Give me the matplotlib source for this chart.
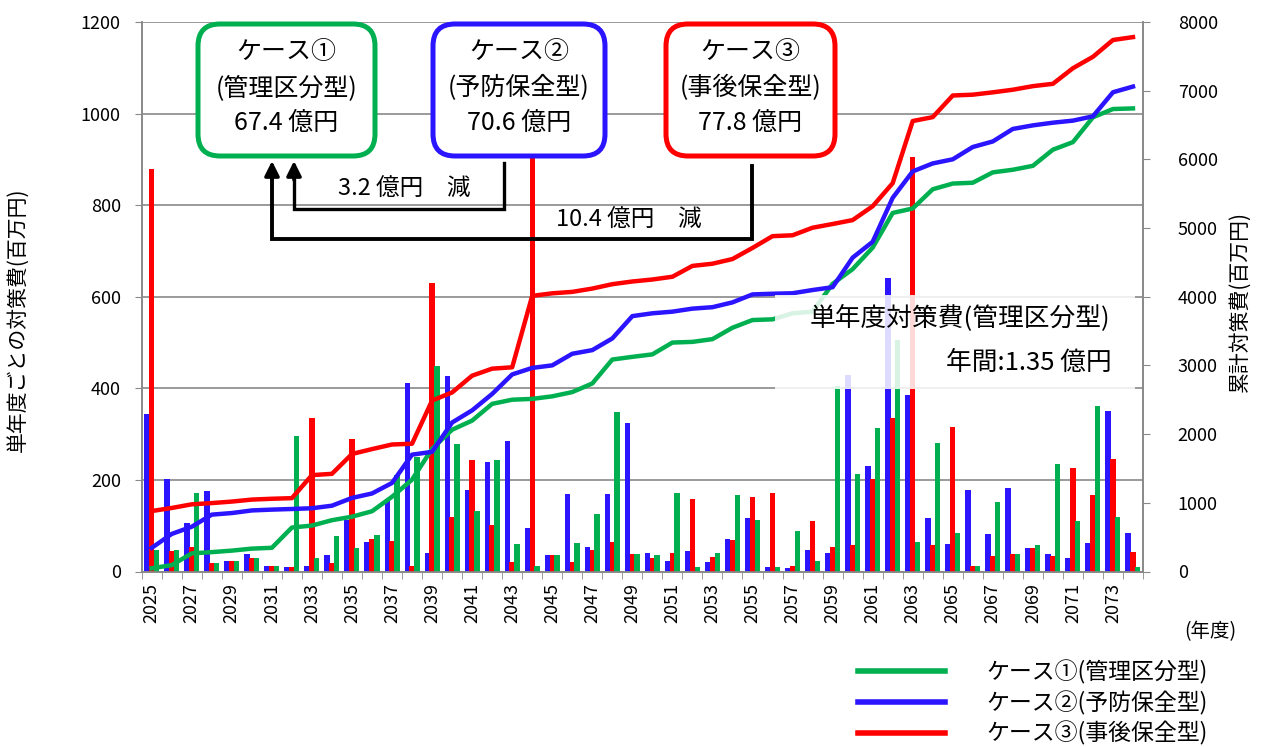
import numpy as np
import matplotlib
matplotlib.use("Agg")
import matplotlib.pyplot as plt
from matplotlib.patches import FancyBboxPatch, Rectangle
from matplotlib.lines import Line2D

plt.rcParams['font.family'] = ['Noto Sans CJK JP', 'DejaVu Sans']

# fiscal years
years = list(range(2025, 2075))

# single-year cost per case (million yen)
case1 = [47, 46, 171, 18, 22, 29, 12, 295, 29, 78,
         51, 79, 211, 249, 449, 278, 133, 244, 60, 12,
         37, 62, 125, 349, 39, 36, 172, 10, 40, 166,
         112, 10, 88, 24, 405, 214, 313, 505, 65, 280,
         83, 12, 151, 38, 57, 235, 110, 362, 120, 9]
case2 = [344, 203, 105, 176, 23, 38, 12, 9, 11, 37,
         113, 65, 153, 412, 41, 427, 177, 239, 284, 95,
         37, 169, 53, 170, 325, 41, 24, 44, 21, 70,
         116, 10, 7, 47, 41, 430, 231, 640, 385, 116,
         60, 179, 81, 182, 52, 39, 30, 63, 350, 83]
case3 = [880, 45, 53, 18, 22, 29, 12, 9, 335, 19,
         289, 71, 67, 11, 629, 118, 244, 102, 20, 1040,
         37, 21, 48, 64, 39, 29, 40, 158, 32, 68,
         162, 171, 13, 110, 54, 57, 202, 335, 905, 57,
         315, 12, 34, 38, 52, 34, 227, 166, 245, 42]

labels = ['ケース①(管理区分型)', 'ケース②(予防保全型)', 'ケース③(事後保全型)']
totals = ['67.4 億円', '70.6 億円', '77.8 億円']

GREEN = '#00B050'
BLUE = '#2B14FF'
RED = '#FF0000'
GRAY = '#898989'

fig = plt.figure(figsize=(12.61, 7.47), dpi=100)
W, H = 1261, 747
ax = fig.add_axes([141.7 / W, 1 - 571.5 / H, (1143 - 141.7) / W, (571.5 - 22) / H])
ax2 = ax.twinx()

x = np.arange(len(years))
bw = 0.27
ax.bar(x - 0.24, case2, bw, color=BLUE, zorder=2)
ax.bar(x, case3, bw, color=RED, zorder=3)
ax.bar(x + 0.24, case1, bw, color=GREEN, zorder=4)

# cumulative cost lines
ax2.plot(x, np.cumsum(case1), color=GREEN, lw=3.2, solid_joinstyle='round')
ax2.plot(x, np.cumsum(case2), color=BLUE, lw=3.2, solid_joinstyle='round')
ax2.plot(x, np.cumsum(case3), color=RED, lw=3.2, solid_joinstyle='round')

ax.set_xlim(-0.5, len(years) - 0.5)
ax.set_ylim(0, 1200)
ax2.set_ylim(0, 8000)
ax.set_yticks(range(0, 1201, 200))
ax2.set_yticks(range(0, 8001, 1000))
ax.yaxis.grid(True, color=GRAY, lw=1.2)
ax.set_axisbelow(True)

ax.set_xticks(x[::2])
ax.set_xticklabels([str(y) for y in years[::2]], rotation=90, fontsize=13)
ax.set_xticks(np.arange(-0.5, len(years), 1), minor=True)
ax.tick_params(axis='x', which='major', length=0, pad=8)
ax.tick_params(axis='x', which='minor', length=5, color=GRAY)
ax.tick_params(axis='y', length=5, color=GRAY, labelsize=13, pad=10)
ax2.tick_params(axis='y', length=5, color=GRAY, labelsize=13, pad=20)

for a in (ax, ax2):
    a.spines['top'].set_visible(False)
    for s in ('left', 'right', 'bottom'):
        a.spines[s].set_color(GRAY)
        a.spines[s].set_linewidth(1.2)

fig.text(18 / W, 1 - 320 / H, '単年度ごとの対策費(百万円)', rotation=90,
         ha='center', va='center', fontsize=15)
fig.text(1240 / W, 1 - 302 / H, '累計対策費(百万円)', rotation=90,
         ha='center', va='center', fontsize=15)
fig.text(1210 / W, 1 - 632 / H, '(年度)', ha='center', va='center', fontsize=14)

# overlay in pixel coordinates for the annotations
ov = fig.add_axes([0, 0, 1, 1], zorder=10)
ov.set_xlim(0, W)
ov.set_ylim(H, 0)
ov.axis('off')

# faded note box
ov.add_patch(Rectangle((775, 295), 360, 94, facecolor='white', alpha=0.85,
                       edgecolor='none'))
ov.text(960, 318, '単年度対策費(管理区分型)', ha='center', va='center', fontsize=18.5)
ov.text(1112, 363, '年間:1.35 億円', ha='right', va='center', fontsize=18.5)

# case boxes
boxes = [(198, 375, GREEN, 'ケース①', '(管理区分型)'),
         (433, 605, BLUE, 'ケース②', '(予防保全型)'),
         (666, 835, RED, 'ケース③', '(事後保全型)')]
for (x0, x1, c, t1, t2), tot in zip(boxes, totals):
    ov.add_patch(FancyBboxPatch((x0, 24), x1 - x0, 132,
                                boxstyle='round,pad=0,rounding_size=22',
                                facecolor='white', edgecolor=c, lw=3.6))
    cx = (x0 + x1) / 2
    ov.text(cx, 52, t1, ha='center', va='center', fontsize=18)
    ov.text(cx, 88, t2, ha='center', va='center', fontsize=18)
    ov.text(cx, 123, tot, ha='center', va='center', fontsize=18)

# difference brackets
ov.plot([504, 504, 294, 294], [163, 209, 209, 175], color='black', lw=2.4,
        solid_joinstyle='miter')
ov.plot([752, 752, 272, 272], [166, 239, 239, 175], color='black', lw=2.8,
        solid_joinstyle='miter')
for ax_x in (272, 294):
    ov.annotate('', xy=(ax_x, 161), xytext=(ax_x, 180),
                arrowprops=dict(arrowstyle='-|>', color='black', lw=2.5,
                                mutation_scale=22, shrinkA=0, shrinkB=0))
ov.text(404, 189, '3.2 億円　減', ha='center', va='center', fontsize=17)
ov.text(629, 220, '10.4 億円　減', ha='center', va='center', fontsize=17)

# legend
handles = [Line2D([], [], color=c, lw=4) for c in (GREEN, BLUE, RED)]
fig.legend(handles, labels, loc='upper left',
           bbox_to_anchor=(858 / W, 1 - 660 / H), frameon=False,
           fontsize=16.5, handlelength=3.8, handletextpad=1.8,
           labelspacing=0.28, borderpad=0, borderaxespad=0)

fig.savefig('out.png', dpi=100)
